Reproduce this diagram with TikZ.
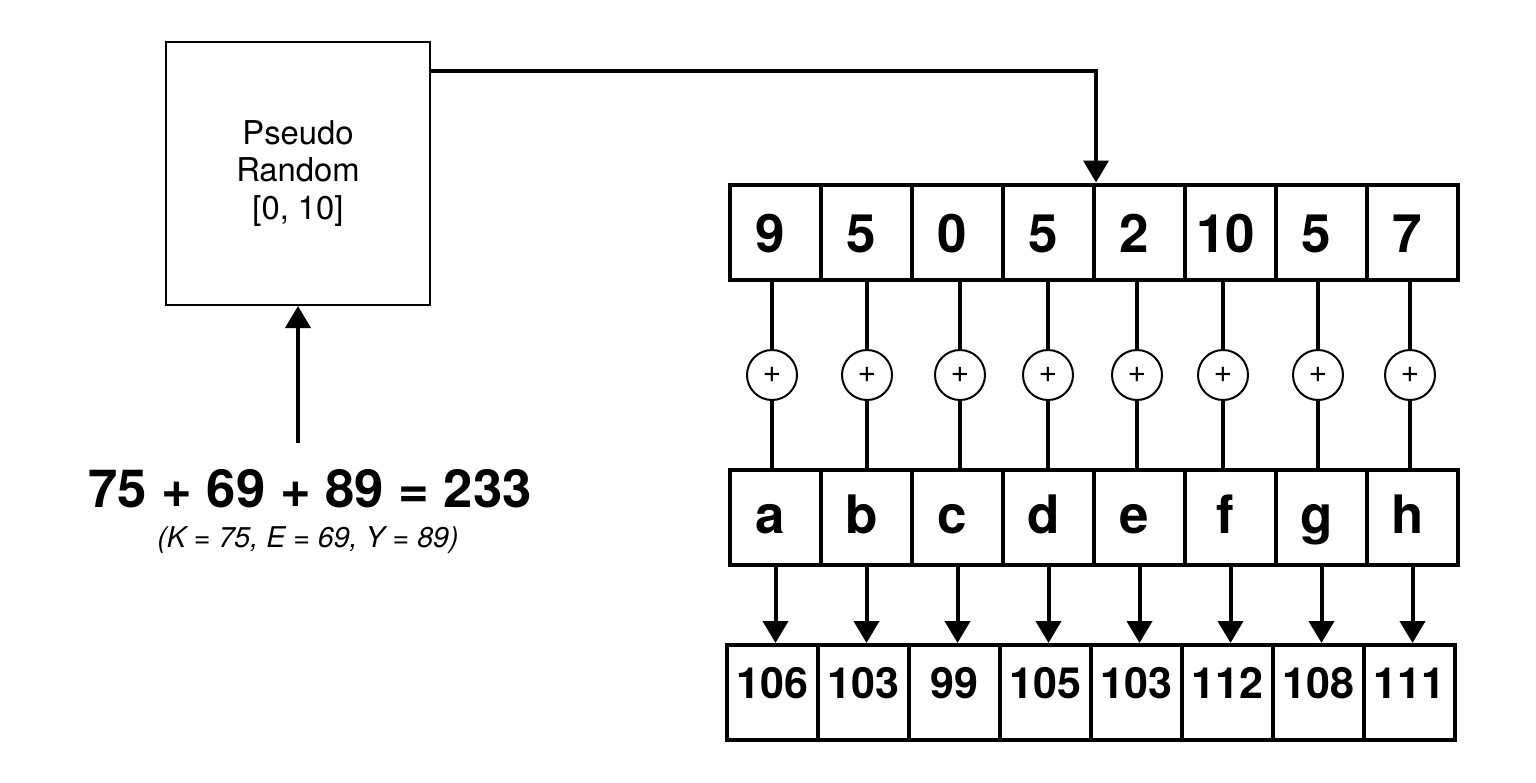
\documentclass[tikz,border=0pt]{standalone}
\usepackage{fontspec}
\setmainfont{TeX Gyre Heros}
\usetikzlibrary{arrows.meta,calc}
\begin{document}
\begin{tikzpicture}[x=0.5pt,y=-0.5pt,
  conn/.style={line width=2pt},
  arr/.style={conn,-{Triangle[length=11pt,width=12.5pt]}},
  cell/.style={draw,line width=2pt,minimum width=45.5pt,minimum height=47.5pt,
    inner sep=0pt,font=\bfseries\fontsize{26.5}{30}\selectfont},
  % values in the upper two rows sit a little left of the cell centre
  leftish/.style={execute at end node={\hspace*{5pt}}},
  keycell/.style={cell,leftish,text height=20pt,text depth=0pt},
  plaincell/.style={cell,leftish,text height=15.5pt,text depth=0pt},
  outcell/.style={cell,font=\bfseries\fontsize{21.5}{25}\selectfont,
    text height=5.5pt,text depth=0pt},
  adder/.style={draw,circle,line width=1pt,minimum size=25pt,inner sep=0pt,
    font=\fontsize{16}{16}\selectfont},
  genbox/.style={draw,line width=1pt,minimum width=132pt,minimum height=131.5pt,
    align=center,font=\fontsize{16.4}{18.75}\selectfont}]
\useasboundingbox (0,0) rectangle (1536,782);

% key generator
\node[genbox] (prng) at (298,173.5) {Pseudo\\Random\\{[0, 10]}};

% seed derived from the word KEY
\node[anchor=base,font=\bfseries\fontsize{26.3}{30}\selectfont] (seed) at (310,507)
  {75 + 69 + 89 = 233};
\node[anchor=base,font=\itshape\fontsize{14.3}{16}\selectfont] (seednote) at (308,547)
  {(K = 75, E = 69, Y = 89)};
\coordinate (seedtop) at (298,443);
\draw[arr] (seedtop) -- (prng.south);

% key stream, plaintext, additions and ciphertext
\foreach \k/\v/\l/\o/\ax in {1/9/a/106/772, 2/5/b/103/867, 3/0/c/99/960,
    4/5/d/105/1048, 5/2/e/103/1137, 6/10/f/112/1223, 7/5/g/108/1318, 8/7/h/111/1410} {
  \node[keycell] (top\k) at ({684.5+91*\k},232) {\v};
  \node[plaincell] (mid\k) at ({684.5+91*\k},517.5) {\l};
  \node[outcell] (bot\k) at ({681.5+91*\k},692.5) {\o};
  \node[adder] (add\k) at (\ax,375) {+};
}
\foreach \k in {1,...,8} {
  \draw[conn] (add\k |- top\k.south) -- (add\k);
  \draw[conn] (add\k) -- (add\k |- mid\k.north);
  \draw[arr] (mid\k.south) -- (mid\k.south |- bot\k.north);
}

% generator output feeds the key stream
\draw[arr] ($(prng.north east)!0.114!(prng.south east)$) -| (top4.north east);
\end{tikzpicture}
\end{document}
